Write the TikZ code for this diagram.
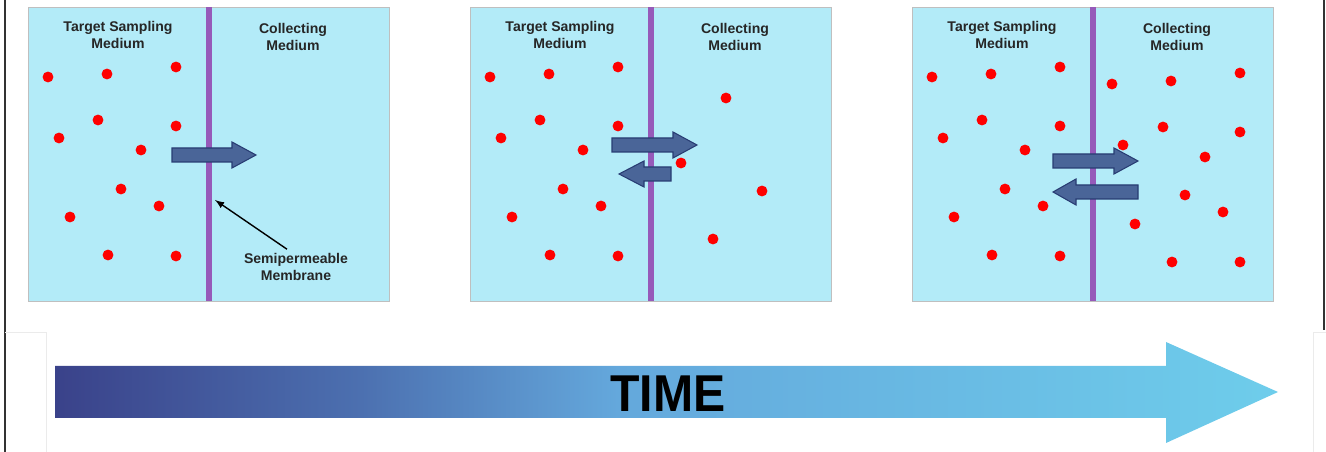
\documentclass[tikz,border=0pt]{standalone}
\usepackage{fontspec}
\setmainfont{Liberation Sans}
\usetikzlibrary{calc,positioning,arrows}

\definecolor{mediumblue}{RGB}{179,235,248}
\definecolor{membrane}{RGB}{150,90,185}
\definecolor{flowfill}{RGB}{74,101,152}
\definecolor{flowline}{RGB}{40,60,115}
\definecolor{timedark}{RGB}{58,66,138}
\definecolor{timequarter}{RGB}{76,112,176}
\definecolor{timemid}{RGB}{100,168,220}
\definecolor{timelight}{RGB}{110,205,235}

% only the middle 50bp of the shading cover the arrow
\pgfdeclarehorizontalshading{timeshade}{100bp}{color(0bp)=(timedark); color(25bp)=(timedark); color(37.5bp)=(timequarter); color(48bp)=(timemid); color(75bp)=(timelight); color(100bp)=(timelight)}

\tikzset{
  dot/.style={fill=red},
  flow/.style={fill=flowfill, draw=flowline, line width=0.6pt},
  headtext/.style={font=\fontsize{8}{9.4}\selectfont\bfseries, align=center, text=black!85, inner sep=0pt}
}

\begin{document}
\begin{tikzpicture}[x=0.02cm, y=-0.02cm]
\useasboundingbox (0,0) rectangle (1326,452);
%\draw[help lines, step=50] (0,0) grid (1326,452);

% frame of the screenshot
\draw[black!80, line width=0.6pt] (5,0) -- (5,452);
\draw[black!80, line width=0.6pt] (1324,0) -- (1324,330);
\draw[black!8] (5,332) -- (46,332) -- (46,452);
\draw[black!8] (1326,332) -- (1313,332) -- (1313,452);

% the three panels
\foreach \px/\nm in {28/a, 470/b, 912/c} {
  \begin{scope}[shift={(\px,0)}]
    \fill[mediumblue] (0,7) rectangle (361,301);
    \draw[black!25, line width=0.4pt] (0,7) rectangle (361,301);
    \fill[membrane] (178,7) rectangle (184,301);
    \node[headtext] (tsm\nm) at (90,35) {Target Sampling\\Medium};
    \node[headtext] (cm\nm) at (265,37) {Collecting\\Medium};
    \foreach \dx/\dy in {20/77, 79/74, 148/67, 70/120, 148/126, 31/138,
                         113/150, 93/189, 131/206, 42/217, 80/255, 148/256}
      \fill[dot] (\dx,\dy) circle (3.1pt);
  \end{scope}
}

% molecules already in the collecting medium
\foreach \x/\y in {726/98, 681/163, 762/191, 713/239}
  \fill[dot] (\x,\y) circle (3.1pt);
\foreach \x/\y in {1112/84, 1171/81, 1240/73, 1163/127, 1240/132, 1123/145,
                   1205/157, 1185/195, 1223/212, 1135/224, 1172/262, 1240/262}
  \fill[dot] (\x,\y) circle (3.1pt);

% flow across the membrane
\draw[flow] (172,148) -- (232,148) -- (232,142) -- (256,155) -- (232,168) -- (232,162) -- (172,162) -- cycle;

\draw[flow] (612,138) -- (673,138) -- (673,132) -- (697,145) -- (673,158) -- (673,152) -- (612,152) -- cycle;
\draw[flow] (671,167) -- (644,167) -- (644,161) -- (619,174) -- (644,187) -- (644,181) -- (671,181) -- cycle;

\draw[flow] (1053,154) -- (1114,154) -- (1114,148) -- (1138,161) -- (1114,174) -- (1114,168) -- (1053,168) -- cycle;
\draw[flow] (1138,185) -- (1076,185) -- (1076,179) -- (1053,192) -- (1076,205) -- (1076,199) -- (1138,199) -- cycle;

% membrane label
\node[headtext] (semi) at (296,267) {Semipermeable\\Membrane};
\coordinate (memtip) at (215,200);
\draw[-latex, line width=0.8pt] ($(semi.north)+(-9,-4)$) -- (memtip);

% time arrow
\shade[shading=timeshade]
  (55,366) -- (1166,366) -- (1166,342) -- (1278,392) -- (1166,443) -- (1166,418) -- (55,418) -- cycle;
\node[font=\fontsize{29.5}{30}\selectfont\bfseries, xscale=0.93, inner sep=0pt] (time) at (668,394) {TIME};

\end{tikzpicture}
\end{document}
